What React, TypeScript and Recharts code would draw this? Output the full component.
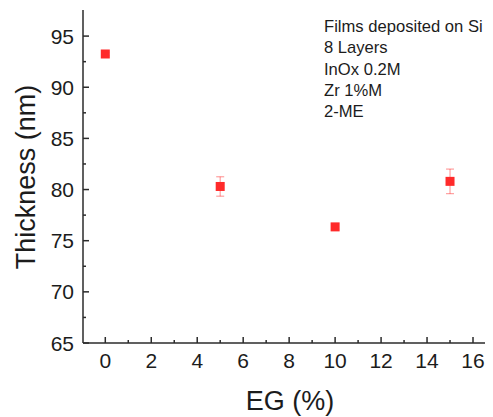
import React from 'react';
import { ScatterChart, Scatter, XAxis, YAxis, ErrorBar } from 'recharts';

// EG content vs film thickness
const egPercent = [0, 5, 10, 15];
const thickness = [93.25, 80.3, 76.35, 80.8];
const thicknessErr = [0.15, 0.95, 0.3, 1.2];

const xTicks = [0, 1, 2, 3, 4, 5, 6, 7, 8, 9, 10, 11, 12, 13, 14, 15, 16];
const yTicks = [65, 67.5, 70, 72.5, 75, 77.5, 80, 82.5, 85, 87.5, 90, 92.5, 95];
const notes = ['Films deposited on Si', '8 Layers', 'InOx 0.2M', 'Zr 1%M', '2-ME'];

const xDomain = [-0.97, 16.87];
const yDomain = [65, 97.55];

const font = '"Liberation Sans", Arial, sans-serif';
const axisColor = '#2b2b2b';
const textColor = '#1c1c1c';

const data = egPercent.map((x, i) => ({ x, y: thickness[i], err: thicknessErr[i] }));

// ticks point inwards, so line + label drawn by hand
const XTick = (props: any) => {
  const { x, y, payload } = props;
  const major = payload.value % 2 === 0;
  return (
    <g>
      <line x1={x} y1={y} x2={x} y2={y - (major ? 6 : 3)} stroke={axisColor} strokeWidth={1.5} />
      {major && (
        <text x={x} y={y + 25} textAnchor='middle' fontSize={21} fontFamily={font} fill={textColor}>
          {payload.value}
        </text>
      )}
    </g>
  );
};

const YTick = (props: any) => {
  const { x, y, payload } = props;
  const major = payload.value % 5 === 0;
  return (
    <g>
      <line x1={x} y1={y} x2={x + (major ? 6 : 3)} y2={y} stroke={axisColor} strokeWidth={1.5} />
      {major && (
        <text x={x - 9} y={y + 7.5} textAnchor='end' fontSize={21} fontFamily={font} fill={textColor}>
          {payload.value}
        </text>
      )}
    </g>
  );
};

const YTitle = () => (
  <text
    transform='translate(27,169) rotate(-90)'
    textAnchor='middle'
    fontSize={27}
    fontFamily={font}
    fill={textColor}>
    Thickness (nm)
  </text>
);

const XTitle = () => (
  <text x={282} y={402} textAnchor='middle' fontSize={27} fontFamily={font} fill={textColor}>
    EG (%)
  </text>
);

const Marker = (props: any) => {
  const { cx, cy } = props;
  return <rect x={cx - 4.5} y={cy - 4.5} width={9} height={9} fill='#ff2a2a' />;
};

export default function App() {
  return (
    <div style={{ position: 'relative', width: 485, height: 409 }}>
      <ScatterChart width={485} height={409} margin={{ top: 2, right: 0, bottom: 0, left: 0 }}>
        <XAxis
          type='number'
          dataKey='x'
          domain={xDomain}
          allowDataOverflow
          ticks={xTicks}
          interval={0}
          tickSize={0}
          tickMargin={0}
          tickLine={false}
          tick={<XTick />}
          height={74}
          axisLine={{ stroke: axisColor, strokeWidth: 1.5 }}
          label={<XTitle />}
        />
        <XAxis
          xAxisId='top'
          orientation='top'
          type='number'
          domain={xDomain}
          allowDataOverflow
          tick={false}
          tickLine={false}
          height={0}
          axisLine={{ stroke: axisColor, strokeWidth: 1.5 }}
        />
        <YAxis
          type='number'
          dataKey='y'
          domain={yDomain}
          allowDataOverflow
          ticks={yTicks}
          interval={0}
          tickSize={0}
          tickMargin={0}
          tickLine={false}
          tick={<YTick />}
          width={75}
          axisLine={{ stroke: axisColor, strokeWidth: 1.5 }}
          label={<YTitle />}
        />
        <Scatter data={data} dataKey='y' shape={<Marker />} isAnimationActive={false}>
          {/* translucent red: pink on white, invisible over the squares */}
          <ErrorBar
            dataKey='err'
            direction='y'
            width={4}
            stroke='rgba(255,42,42,0.45)'
            strokeWidth={1.2}
            isAnimationActive={false}
          />
        </Scatter>
      </ScatterChart>
      <div
        style={{
          position: 'absolute',
          left: 316,
          top: 8,
          fontFamily: font,
          fontSize: 16.6,
          lineHeight: '21.35px',
          color: textColor,
          whiteSpace: 'nowrap',
        }}>
        {notes.map((n) => (
          <div key={n}>{n}</div>
        ))}
      </div>
    </div>
  );
}
